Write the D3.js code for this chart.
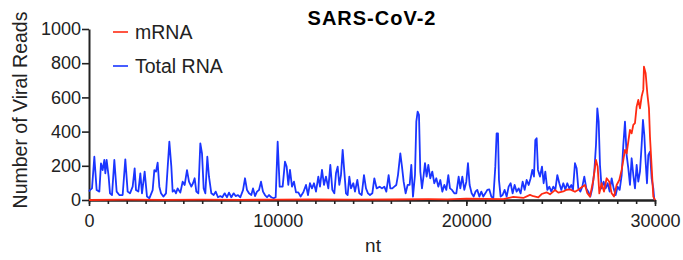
<!DOCTYPE html>
<html>
<head>
<meta charset="utf-8">
<style>
body { margin: 0; background: #fff; }
text { font-family: "Liberation Sans", Arial, sans-serif; }
</style>
</head>
<body>
<svg id="chart" width="683" height="260"></svg>
<script src="https://d3js.org/d3.v7.min.js"></script>
<script>

// Total RNA coverage (nt position, reads)
var totalNt = [0,53,159,283,406,548,636,724,813,866,936,1042,1113,1219,1343,1466,1607,1784,1925,2049,2173,2314,2420,2491,2615,2721,2809,2950,3074,3198,3374,3463,3551,3639,3728,3816,3940,4081,4258,4364,4434,4523,4611,4699,4840,4964,5071,5194,5300,5424,5512,5600,5689,5795,5901,5989,6078,6166,6272,6360,6484,6608,6714,6837,6961,7067,7191,7314,7420,7544,7668,7774,7897,8021,8163,8269,8375,8481,8604,8693,8799,8905,9011,9117,9223,9328,9434,9540,9664,9788,9894,10000,10106,10264,10388,10476,10565,10653,10759,10865,10971,11095,11218,11360,11501,11607,11713,11819,11925,12031,12155,12243,12349,12455,12561,12685,12791,12897,13003,13091,13180,13268,13356,13445,13533,13621,13710,13798,13886,14010,14098,14222,14328,14452,14575,14681,14787,14893,15017,15123,15247,15405,15529,15653,15759,15882,15970,16076,16183,16288,16377,16501,16589,16677,16783,16889,16995,17084,17172,17278,17349,17419,17490,17561,17649,17738,17808,17896,17985,18090,18196,18302,18408,18514,18620,18727,18833,18939,19045,19133,19239,19363,19469,19593,19681,19787,19893,19999,20087,20175,20281,20387,20493,20582,20688,20794,20900,21006,21112,21218,21324,21430,21536,21606,21677,21730,21818,21924,22031,22137,22242,22348,22454,22560,22666,22772,22878,22985,23091,23197,23303,23409,23497,23586,23656,23727,23797,23903,24009,24098,24186,24292,24398,24504,24610,24716,24822,24928,25034,25140,25246,25352,25458,25564,25652,25758,25846,25935,26041,26147,26253,26359,26465,26571,26677,26783,26872,26943,27014,27084,27172,27278,27384,27490,27596,27702,27808,27914,28020,28127,28233,28321,28409,28497,28586,28674,28762,28851,28939,29027,29115,29204,29292,29362,29433,29504,29575,29645,29734,29822,29910,29963];
var totalReads = [50,58,68,253,58,49,214,175,234,156,234,136,39,29,234,49,29,29,238,49,39,78,185,58,49,156,39,166,20,10,58,175,166,218,78,39,20,39,341,195,49,58,39,68,43,107,88,175,107,78,98,127,49,39,331,273,68,39,253,136,39,29,49,16,23,16,39,16,43,16,39,23,29,16,58,127,58,39,29,68,23,49,58,107,49,29,16,29,16,10,16,341,78,78,224,195,88,176,78,107,45,45,20,45,88,29,98,68,98,49,137,78,176,88,137,68,205,59,39,156,195,88,146,293,166,39,29,137,68,98,49,117,39,29,146,68,39,29,39,127,68,78,68,78,49,146,68,68,78,88,146,273,195,107,39,88,88,205,20,146,458,517,498,166,68,146,215,137,205,127,166,98,127,78,117,49,88,59,146,68,59,39,39,137,68,137,59,107,215,88,39,20,50,59,20,49,20,39,59,62,20,10,195,390,390,117,20,29,59,20,78,98,39,88,49,68,39,107,59,117,88,127,176,137,351,361,176,137,195,98,166,59,78,49,78,59,146,98,59,98,62,98,68,88,59,215,185,68,49,78,137,68,49,20,68,166,322,536,458,205,68,107,68,98,49,127,68,29,78,59,146,322,458,263,185,88,244,146,68,205,107,166,322,468,380,224,98,263,283,127,68,0];

// mRNA coverage (nt position, reads)
var mrnaNt = [0,2000,4000,6000,8000,10000,12000,14000,16000,18000,19000,20000,21000,21960,22490,23020,23373,23550,23815,23992,24257,24434,24699,24876,25140,25317,25494,25759,25936,26113,26289,26413,26554,26731,26872,26961,27049,27172,27296,27437,27578,27702,27826,27967,28108,28232,28320,28408,28497,28585,28673,28762,28850,28938,29027,29115,29203,29292,29380,29415,29504,29592,29680,29733,29821,29910,30000];
var mrnaReads = [0,2,1,2,1,2,3,2,3,5,4,8,6,5,18,12,30,22,15,35,45,33,58,43,50,60,62,48,60,75,88,40,20,117,234,195,39,98,49,127,107,39,20,88,117,176,234,293,273,341,410,390,439,449,546,585,536,605,644,780,741,624,536,371,195,20,0];

var xMajor = [0, 10000, 20000, 30000];
var yTicks = [0, 200, 400, 600, 800, 1000];
var seriesNames = ["mRNA", "Total RNA"];
var seriesColors = ["#ff2a12", "#1a35ff"];

var svg = d3.select("#chart");

var x = d3.scaleLinear().domain([0, 30000]).range([89, 655]);
var y = d3.scaleLinear().domain([0, 1000]).range([200, 29]);

var totalData = totalNt.map(function(d, i){ return [d, totalReads[i]]; });
var mrnaData = mrnaNt.map(function(d, i){ return [d, mrnaReads[i]]; });

var line = d3.line()
    .x(function(d){ return x(d[0]); })
    .y(function(d){ return y(d[1]); });

// axes
var yAxis = svg.append("g")
    .attr("transform", "translate(89,0)")
    .call(d3.axisLeft(y).tickValues(yTicks).tickSize(7).tickSizeOuter(0).tickPadding(1).tickFormat(d3.format("d")));

var xMinor = svg.append("g")
    .attr("transform", "translate(0,200)")
    .call(d3.axisBottom(x).tickValues(d3.range(0, 30001, 1000)).tickSize(4).tickSizeOuter(0).tickFormat(""));

var xAxis = svg.append("g")
    .attr("transform", "translate(0,200)")
    .call(d3.axisBottom(x).tickValues(xMajor).tickSize(6).tickSizeOuter(0).tickPadding(8).tickFormat(d3.format("d")));

[yAxis, xMinor, xAxis].forEach(function(g){
  g.selectAll("path").attr("stroke", "#222").attr("stroke-width", 2);
  g.selectAll("line").attr("stroke", "#222").attr("stroke-width", 1.6);
  g.selectAll("text").attr("font-size", 18).attr("fill", "#222")
    .attr("font-family", "Liberation Sans, Arial, sans-serif");
});

// lines
svg.append("path").datum(totalData)
    .attr("d", line)
    .attr("fill", "none")
    .attr("stroke", seriesColors[1])
    .attr("stroke-width", 1.8)
    .attr("stroke-linejoin", "round");

svg.append("path").datum(mrnaData)
    .attr("d", line)
    .attr("fill", "none")
    .attr("stroke", seriesColors[0])
    .attr("stroke-width", 1.8)
    .attr("stroke-linejoin", "round");

// title and labels
svg.append("text")
    .attr("x", 372).attr("y", 25)
    .attr("text-anchor", "middle")
    .attr("font-size", 20).attr("font-weight", "bold")
    .attr("letter-spacing", 1)
    .text("SARS-CoV-2");

svg.append("text")
    .attr("transform", "translate(27,110) rotate(-90)")
    .attr("text-anchor", "middle")
    .attr("font-size", 19.5).attr("fill", "#222")
    .text("Number of Viral Reads");

svg.append("text")
    .attr("x", 373).attr("y", 252)
    .attr("text-anchor", "middle")
    .attr("font-size", 19).attr("fill", "#222")
    .text("nt");

// legend
var legend = svg.selectAll(".leg").data(seriesNames).enter().append("g")
    .attr("class", "leg")
    .attr("transform", function(d, i){ return "translate(113," + (32 + i * 34) + ")"; });

legend.append("line")
    .attr("x1", 0).attr("x2", 15)
    .attr("stroke", function(d, i){ return seriesColors[i]; })
    .attr("stroke-width", 1.6);

legend.append("text")
    .attr("x", 22).attr("y", 7)
    .attr("font-size", 19.5).attr("fill", "#222")
    .text(function(d){ return d; });

</script>
</body>
</html>
